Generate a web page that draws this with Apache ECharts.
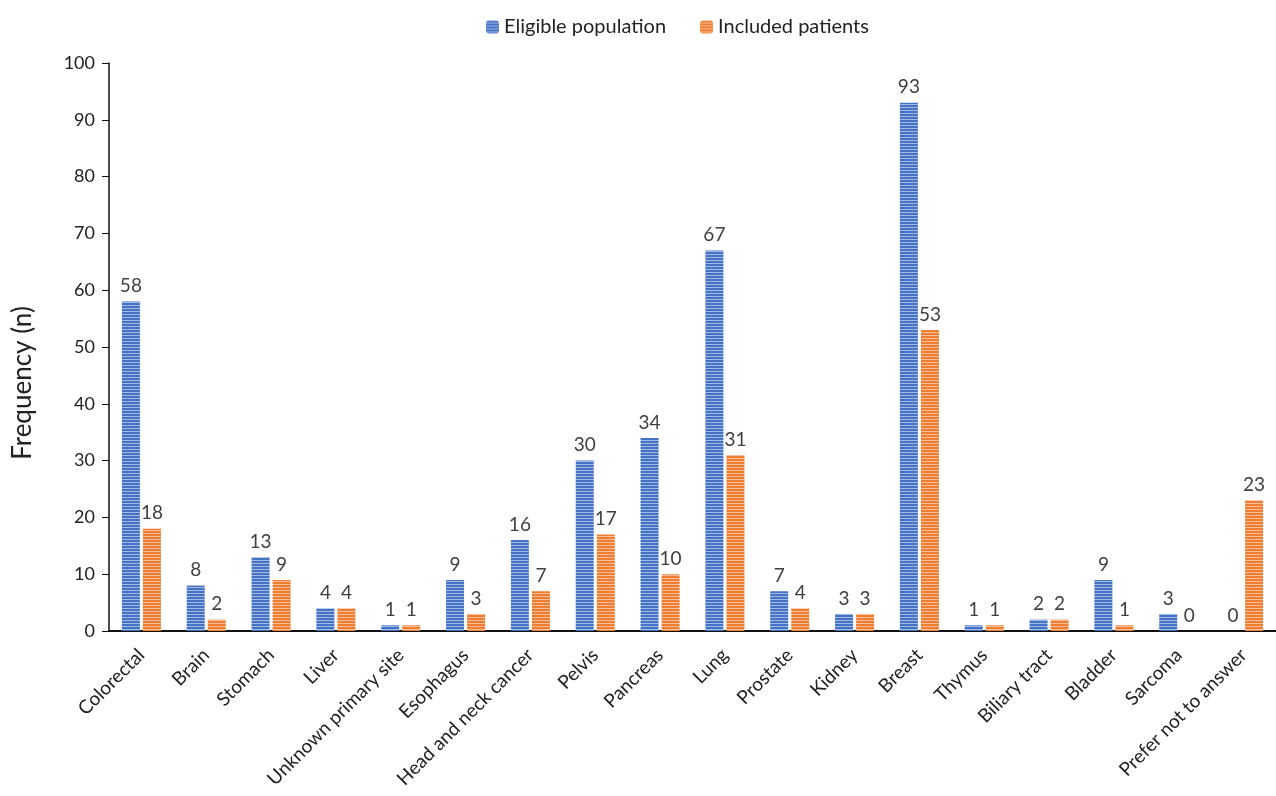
<!DOCTYPE html>
<html>
<head>
<meta charset="utf-8">
<script src="https://cdn.jsdelivr.net/npm/echarts@6/dist/echarts.min.js"></script>
<style>
  html, body { margin: 0; padding: 0; background: #fff; }
  #chart { width: 1276px; height: 796px; }
</style>
</head>
<body>
<div id="chart"></div>
<script>
const categories = ['Colorectal', 'Brain', 'Stomach', 'Liver', 'Unknown primary site', 'Esophagus',
  'Head and neck cancer', 'Pelvis', 'Pancreas', 'Lung', 'Prostate', 'Kidney', 'Breast', 'Thymus',
  'Biliary tract', 'Bladder', 'Sarcoma', 'Prefer not to answer']
const eligible = [58, 8, 13, 4, 1, 9, 16, 30, 34, 67, 7, 3, 93, 1, 2, 9, 3, 0]
const included = [18, 2, 9, 4, 1, 3, 7, 17, 10, 31, 4, 3, 53, 1, 2, 1, 0, 23]

const FONT = 'Lato, "Open Sans", sans-serif'

// horizontal stripe fill like the original
const stripes = (color) => {
  const c = document.createElement('canvas')
  c.width = 4
  c.height = 3
  const ctx = c.getContext('2d')
  ctx.fillStyle = color
  ctx.fillRect(0, 0, 4, 3)
  ctx.fillStyle = 'rgba(255,255,255,0.5)'
  ctx.fillRect(0, 2, 4, 1)
  return { image: c, repeat: 'repeat' }
}

const chart = echarts.init(document.getElementById('chart'))

const labelStyle = {
  show: true,
  position: 'top',
  distance: 6,
  color: '#404040',
  fontSize: 19,
  fontFamily: FONT
}

chart.setOption({
  animation: false,
  legend: {
    top: 12,
    left: 481,
    itemWidth: 13,
    itemHeight: 13,
    itemGap: 34,
    textStyle: { fontSize: 20, color: '#222', fontFamily: FONT },
    data: ['Eligible population', 'Included patients']
  },
  graphic: [{
    type: 'text',
    x: 10,
    y: 383,
    rotation: Math.PI / 2,
    style: {
      text: 'Frequency (n)',
      fontSize: 26,
      fill: '#222',
      fontFamily: FONT,
      align: 'center',
      verticalAlign: 'top'
    }
  }],
  grid: {
    left: 109,
    top: 63,
    width: 1180,
    height: 568
  },
  xAxis: {
    type: 'category',
    data: categories,
    axisLine: { lineStyle: { color: '#111', width: 2 } },
    axisTick: { show: false },
    axisLabel: {
      rotate: 45,
      interval: 0,
      margin: 21,
      fontSize: 19,
      color: '#222',
      fontFamily: FONT
    }
  },
  yAxis: {
    type: 'value',
    min: 0,
    max: 100,
    interval: 10,
    axisLine: { show: true, lineStyle: { color: '#111', width: 1.5 } },
    axisTick: { show: true, inside: false, length: 7, lineStyle: { color: '#111' } },
    axisLabel: { fontSize: 18, color: '#222', margin: 14, fontFamily: FONT },
    splitLine: { show: false }
  },
  series: [
    {
      name: 'Eligible population',
      type: 'bar',
      data: eligible,
      barWidth: 18,
      barGap: '17%',
      itemStyle: { color: stripes('#4472C4') },
      label: labelStyle
    },
    {
      name: 'Included patients',
      type: 'bar',
      data: included,
      barWidth: 18,
      itemStyle: { color: stripes('#ED7D31') },
      label: labelStyle
    }
  ]
})
</script>
</body>
</html>
